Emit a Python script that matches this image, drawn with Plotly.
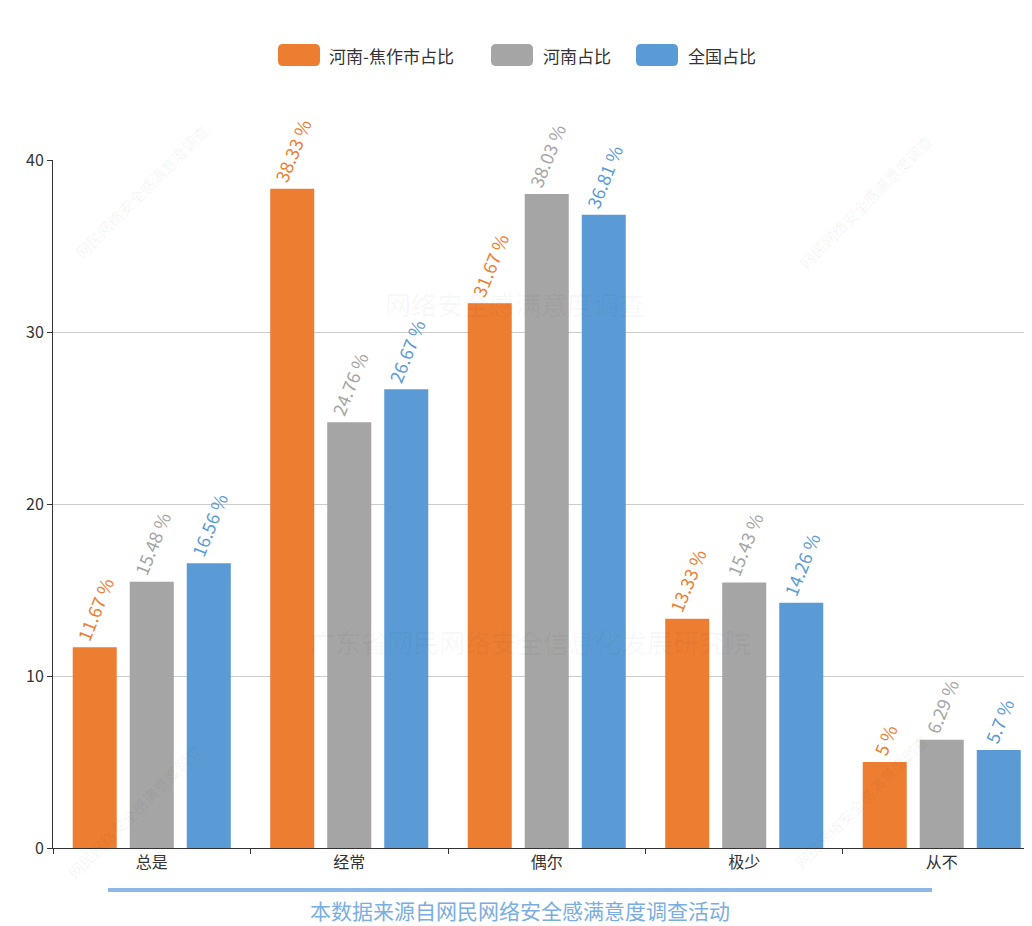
import plotly.graph_objects as go

# data
categories = ['总是', '经常', '偶尔', '极少', '从不']
series_names = ['河南-焦作市占比', '河南占比', '全国占比']
jiaozuo = [11.67, 38.33, 31.67, 13.33, 5]
henan = [15.48, 24.76, 38.03, 15.43, 6.29]
national = [16.56, 26.67, 36.81, 14.26, 5.7]
colors = ['#ED7D31', '#A5A5A5', '#5B9BD5']

# the page body adds an 8px margin, so the figure is drawn 8px smaller
OFF = 8
W, H = 1032 - OFF, 926 - OFF
L, R, T, B = 53 - OFF, 0, 160 - OFF, 78
pw, ph = W - L - R, H - T - B


# helpers: reference-picture pixels -> paper coordinates
def px(x):
    return (x - OFF - L) / pw


def py(y):
    return (H - B - (y - OFF)) / ph


fig = go.Figure()
for name, vals, col in zip(series_names, [jiaozuo, henan, national], colors):
    fig.add_trace(go.Bar(
        x=categories, y=vals, name=name,
        marker=dict(color=col, line=dict(width=0)),
        text=[f'{v:g} %' for v in vals],
        textposition='outside',
        textangle=-68,
        constraintext='none',
        textfont=dict(color=col, size=18, family='Noto Sans CJK SC'),
        cliponaxis=False,
        showlegend=False,
    ))

shapes = []
annotations = []

# custom legend with rounded swatches
legend_items = [(278, 327), (491, 541), (636, 686)]
for (sx, tx), name, col in zip(legend_items, series_names, colors):
    x0, x1, y0, y1 = sx, sx + 42, 44, 66
    r = 5
    path = (f'M {px(x0 + r)} {py(y0)} L {px(x1 - r)} {py(y0)} '
            f'Q {px(x1)} {py(y0)} {px(x1)} {py(y0 + r)} L {px(x1)} {py(y1 - r)} '
            f'Q {px(x1)} {py(y1)} {px(x1 - r)} {py(y1)} L {px(x0 + r)} {py(y1)} '
            f'Q {px(x0)} {py(y1)} {px(x0)} {py(y1 - r)} L {px(x0)} {py(y0 + r)} '
            f'Q {px(x0)} {py(y0)} {px(x0 + r)} {py(y0)} Z')
    shapes.append(dict(type='path', xref='paper', yref='paper', path=path,
                       fillcolor=col, line=dict(width=0)))
    annotations.append(dict(xref='paper', yref='paper', x=px(tx), y=py(55),
                            xanchor='left', yanchor='middle', showarrow=False,
                            text=name, font=dict(size=17, color='#333333')))

# source line and text
shapes.append(dict(type='line', xref='paper', yref='paper',
                   x0=px(108), x1=px(932), y0=py(890), y1=py(890),
                   line=dict(color='#8DB8E8', width=4)))
annotations.append(dict(xref='paper', yref='paper', x=px(520), y=py(910),
                        xanchor='center', yanchor='middle', showarrow=False,
                        borderpad=0,
                        text='本数据来源自网民网络安全感满意度调查活动',
                        font=dict(size=21, color='#7AAEE0')))

# faint watermarks
wm = 'rgba(0,0,0,0.04)'
annotations.append(dict(xref='paper', yref='paper', x=px(515), y=py(283),
                        showarrow=False, text='网络安全感满意度调查',
                        font=dict(size=26, color=wm)))
annotations.append(dict(xref='paper', yref='paper', x=px(530), y=py(662),
                        showarrow=False, text='广东省网民网络安全信息化发展研究院',
                        font=dict(size=26, color=wm)))
for cx, cy in [(68, 118), (940, 128), (60, 885), (935, 875)]:
    annotations.append(dict(xref='paper', yref='paper', x=px(cx), y=py(cy),
                            showarrow=False, textangle=-45,
                            text='网民网络安全感满意度调查',
                            font=dict(size=15, color='rgba(0,0,0,0.06)')))

fig.update_layout(
    width=W, height=H,
    margin=dict(l=L, r=R, t=T, b=B),
    paper_bgcolor='white', plot_bgcolor='white',
    barmode='group', bargap=0.134, bargroupgap=0.228,
    font=dict(family='Noto Sans CJK SC', color='#333333'),
    shapes=shapes, annotations=annotations,
    showlegend=False,
    xaxis=dict(
        range=[-0.5, 4.457],
        showline=True, linecolor='#333333', linewidth=1,
        ticks='outside', tickson='boundaries', ticklen=5, tickcolor='#333333',
        tickfont=dict(size=16, color='#333333'),
        showgrid=False,
    ),
    yaxis=dict(
        range=[0, 40], dtick=10,
        showline=True, linecolor='#333333', linewidth=1,
        ticks='outside', ticklen=5, tickcolor='#333333',
        tickfont=dict(size=16, color='#333333'),
        gridcolor='#CCCCCC', zeroline=False,
    ),
)

fig.write_html('out.html')
